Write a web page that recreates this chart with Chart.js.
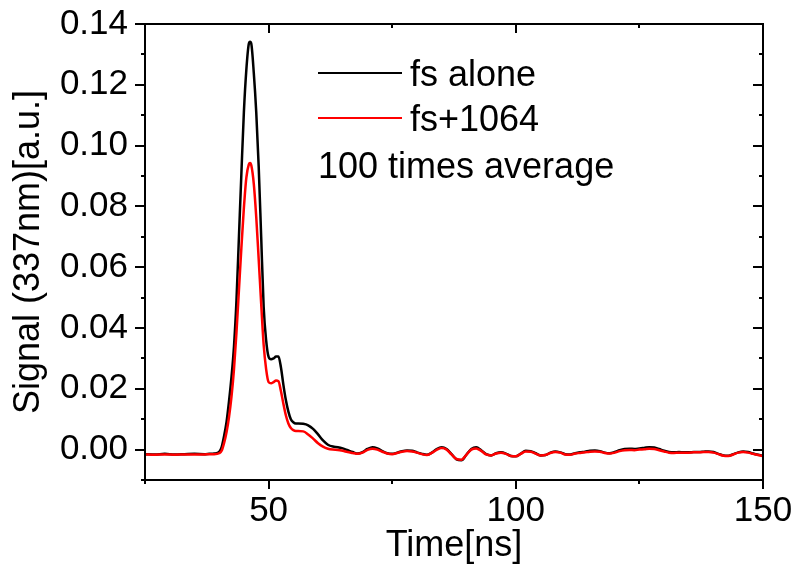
<!DOCTYPE html>
<html><head><meta charset="utf-8">
<script src="https://cdn.jsdelivr.net/npm/chart.js@4/dist/chart.umd.min.js"></script>
<style>html,body{margin:0;padding:0;background:#fff}#wrap{width:797px;height:572px}</style>
</head><body><div id="wrap"><canvas id="c" width="797" height="572"></canvas></div>
<script>
const timeNs = [25,27,29,31,33,35,37,38,39,
  40,40.5,41,41.5,42,42.5,43,43.5,44,44.5,45,45.5,46,46.25,46.5,47,47.5,48,48.5,49,49.5,50,50.5,51,51.5,52,52.5,53,53.5,54,54.5,55,55.5,56,
  57,58,59,60,61,62,63,64,65,66,67,68,69,70,71,72,73,74,75,76,77,78,79,80,81,82,83,84,85,86,87,88,89,90,
  91,92,93,94,95,96,97,98,99,100,101,102,103,104,105,106,107,108,109,110,111,112,113,114,115,116,117,118,119,120,
  121,122,123,124,125,126,127,128,129,130,131,132,133,134,135,136,137,138,139,140,141,142,143,144,145,146,147,148,149,150];
const fsAlone = [-0.0015,-0.0016,-0.0014,-0.0016,-0.0015,-0.0014,-0.0015,-0.0014,-0.0013,
  -0.0008,0.0008,0.0045,0.0092,0.0160,0.0240,0.0340,0.0490,0.0700,0.0910,0.1110,0.1250,0.1335,0.1342,0.1335,0.1240,0.1110,0.0930,0.0700,0.0470,0.0360,0.0305,0.0297,0.0300,0.0306,0.0306,0.0270,0.0212,0.0162,0.0125,0.0100,0.0090,0.0086,0.0086,
  0.0085,0.0080,0.0068,0.0050,0.0030,0.0016,0.0010,0.0008,0.0004,-0.0002,-0.0008,-0.0013,-0.0008,0.0002,0.0008,0.0004,-0.0005,-0.0012,-0.0014,-0.0010,-0.0005,-0.0003,-0.0004,-0.0009,-0.0014,-0.0017,-0.0010,0.0002,0.0008,0.0002,-0.0015,-0.0032,-0.0035,-0.0017,
  0.0002,0.0008,-0.0002,-0.0015,-0.0019,-0.0012,-0.0009,-0.0013,-0.0021,-0.0022,-0.0013,-0.0004,-0.0005,-0.0012,-0.0019,-0.0018,-0.0010,-0.0006,-0.0009,-0.0015,-0.0016,-0.0012,-0.0009,-0.0007,-0.0004,-0.0003,-0.0005,-0.0010,-0.0012,-0.0008,
  -0.0002,0.0002,0.0003,0.0002,0.0004,0.0006,0.0008,0.0007,0.0002,-0.0004,-0.0008,-0.0009,-0.0008,-0.0009,-0.0009,-0.0008,-0.0008,-0.0007,-0.0006,-0.0008,-0.0014,-0.0019,-0.0020,-0.0015,-0.0009,-0.0006,-0.0008,-0.0013,-0.0017,-0.0020];
const fs1064 = [-0.0016,-0.0017,-0.0016,-0.0017,-0.0016,-0.0016,-0.0016,-0.0015,-0.0015,
  -0.0012,-0.0004,0.0022,0.0058,0.0108,0.0175,0.0265,0.0385,0.0525,0.0665,0.0795,0.0895,0.0938,0.0943,0.0935,0.0875,0.0765,0.0625,0.0480,0.0345,0.0265,0.0222,0.0218,0.0222,0.0227,0.0225,0.0192,0.0150,0.0112,0.0086,0.0071,0.0064,0.0061,0.0061,
  0.0060,0.0050,0.0036,0.0021,0.0010,0.0003,0.0000,-0.0001,-0.0004,-0.0008,-0.0011,-0.0014,-0.0010,-0.0001,0.0003,0.0000,-0.0007,-0.0013,-0.0015,-0.0011,-0.0007,-0.0005,-0.0006,-0.0010,-0.0015,-0.0018,-0.0011,-0.0001,0.0005,0.0000,-0.0016,-0.0031,-0.0033,-0.0017,
  0.0000,0.0004,-0.0004,-0.0016,-0.0019,-0.0013,-0.0010,-0.0014,-0.0021,-0.0022,-0.0014,-0.0006,-0.0007,-0.0013,-0.0019,-0.0018,-0.0011,-0.0008,-0.0010,-0.0016,-0.0017,-0.0013,-0.0011,-0.0009,-0.0007,-0.0006,-0.0007,-0.0011,-0.0013,-0.0010,
  -0.0005,-0.0002,-0.0001,-0.0002,0.0000,0.0001,0.0003,0.0002,-0.0002,-0.0006,-0.0010,-0.0011,-0.0010,-0.0010,-0.0010,-0.0009,-0.0009,-0.0008,-0.0008,-0.0010,-0.0015,-0.0020,-0.0021,-0.0016,-0.0010,-0.0008,-0.0010,-0.0014,-0.0018,-0.0021];
const xMajorTicks = [50,100,150];
const xMinorTicks = [25,75,125];
const yMajorTicks = [0,0.02,0.04,0.06,0.08,0.10,0.12,0.14];
const yMinorTicks = [-0.01,0.01,0.03,0.05,0.07,0.09,0.11,0.13];
const seriesNames = ['fs alone','fs+1064'];
const seriesColors = ['#000000','#ff0000'];
const noteText = '100 times average';
const xTitle = 'Time[ns]';
const yTitle = 'Signal (337nm)[a.u.]';

const FONT = "'Liberation Sans', Arial, sans-serif";
const toXY = (arr) => timeNs.map((t,i)=>({x:t,y:arr[i]}));

const frameTicks = {
  id:'frameTicks',
  afterDraw(chart){
    const {ctx, chartArea:a, scales:{x,y}} = chart;
    ctx.save();
    ctx.strokeStyle = '#000';
    ctx.lineWidth = 2;
    ctx.strokeRect(a.left, a.top, a.right-a.left, a.bottom-a.top);
    ctx.beginPath();
    const hx = (v,len) => {
      const p = Math.round(x.getPixelForValue(v));
      ctx.moveTo(p, a.bottom); ctx.lineTo(p, a.bottom+len);
      ctx.moveTo(p, a.top); ctx.lineTo(p, a.top+len);
    };
    const vy = (v,len) => {
      const p = Math.round(y.getPixelForValue(v));
      ctx.moveTo(a.left, p); ctx.lineTo(a.left-len, p);
      ctx.moveTo(a.right, p); ctx.lineTo(a.right-len, p);
    };
    xMajorTicks.forEach(v=>hx(v,9));
    xMinorTicks.forEach(v=>hx(v,4));
    yMajorTicks.forEach(v=>vy(v,10));
    yMinorTicks.forEach(v=>vy(v,4));
    ctx.stroke();
    // legend
    ctx.font = '36px ' + FONT;
    ctx.fillStyle = '#000';
    ctx.textBaseline = 'alphabetic';
    ctx.textAlign = 'left';
    const rows = [73, 118];
    seriesNames.forEach((n,i)=>{
      ctx.beginPath();
      ctx.strokeStyle = seriesColors[i];
      ctx.lineWidth = 2;
      ctx.moveTo(318, rows[i]); ctx.lineTo(402, rows[i]);
      ctx.stroke();
      ctx.fillText(n, 410, rows[i]+13);
    });
    ctx.fillText(noteText, 318, 178);
    ctx.restore();
  }
};

new Chart(document.getElementById('c'), {
  type:'line',
  data:{
    datasets:[
      {label:seriesNames[0], data:toXY(fsAlone), borderColor:seriesColors[0], borderWidth:2.5, pointRadius:0, cubicInterpolationMode:'monotone', order:2},
      {label:seriesNames[1], data:toXY(fs1064), borderColor:seriesColors[1], borderWidth:2.5, pointRadius:0, cubicInterpolationMode:'monotone', order:1}
    ]
  },
  options:{
    responsive:false, animation:false, devicePixelRatio:1,
    layout:{padding:{top:24,right:34,left:0,bottom:0}},
    plugins:{legend:{display:false}, tooltip:{enabled:false}},
    scales:{
      x:{type:'linear', min:25, max:150,
        afterBuildTicks:s=>{s.ticks = xMajorTicks.map(v=>({value:v}));},
        afterFit:s=>{s.height = 92; s.paddingLeft = 0; s.paddingRight = 0;},
        grid:{display:false, drawTicks:false}, border:{display:false},
        ticks:{color:'#000', font:{family:FONT, size:35}, padding:10, maxRotation:0, autoSkip:false, callback:v=>String(v)},
        title:{display:true, text:xTitle, color:'#000', font:{family:FONT, size:36}, padding:{top:0,bottom:4}}
      },
      y:{min:-0.01, max:0.14,
        afterBuildTicks:s=>{s.ticks = yMajorTicks.map(v=>({value:v}));},
        afterFit:s=>{s.width = 145; s.paddingTop = 0; s.paddingBottom = 0;},
        grid:{display:false, drawTicks:false}, border:{display:false},
        ticks:{color:'#000', font:{family:FONT, size:35}, padding:17, autoSkip:false, callback:v=>v.toFixed(2)},
        title:{display:true, text:yTitle, color:'#000', font:{family:FONT, size:36}, padding:{top:7,bottom:0}}
      }
    }
  },
  plugins:[frameTicks]
});
</script></body></html>
